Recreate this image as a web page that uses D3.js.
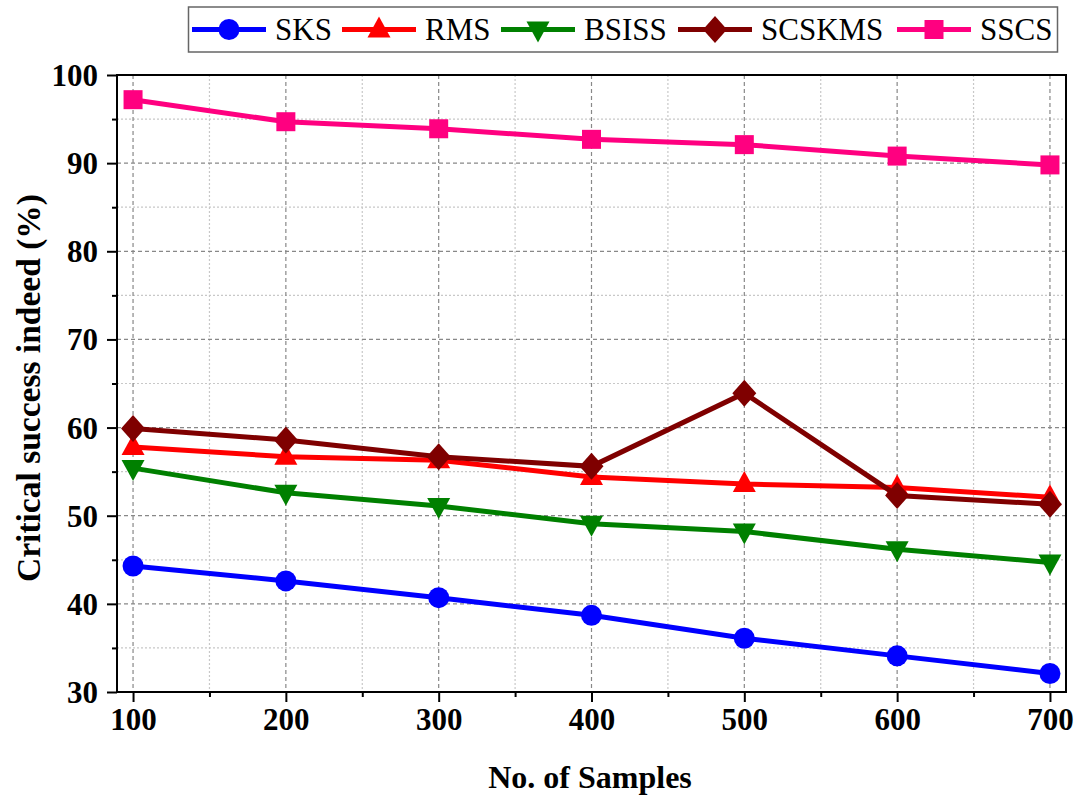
<!DOCTYPE html>
<html>
<head>
<meta charset="utf-8">
<script src="https://cdn.jsdelivr.net/npm/d3@7"></script>
<style>
  body { margin: 0; background: #fff; }
  text { font-family: "Liberation Serif", "Times New Roman", serif; }
</style>
</head>
<body>
<svg width="1080" height="796"></svg>
<script>
// samples on x axis
var samples = [100, 200, 300, 400, 500, 600, 700];

var sks    = [44.3, 42.6, 40.7, 38.7, 36.1, 34.1, 32.1];
var rms    = [57.8, 56.7, 56.3, 54.4, 53.6, 53.2, 52.1];
var bsiss  = [55.4, 52.6, 51.1, 49.1, 48.2, 46.2, 44.7];
var scskms = [59.9, 58.6, 56.7, 55.6, 63.9, 52.3, 51.3];
var sscs   = [97.2, 94.7, 93.9, 92.7, 92.1, 90.8, 89.8];

var seriesNames = ["SKS", "RMS", "BSISS", "SCSKMS", "SSCS"];
var yTicks = [30, 40, 50, 60, 70, 80, 90, 100];

var series = [
  {name: "SKS", values: sks, color: "#0000ff", shape: "circle"},
  {name: "RMS", values: rms, color: "#ff0000", shape: "up"},
  {name: "BSISS", values: bsiss, color: "#008000", shape: "down"},
  {name: "SCSKMS", values: scskms, color: "#7f0000", shape: "diamond"},
  {name: "SSCS", values: sscs, color: "#ff0080", shape: "square"}
];

var svg = d3.select("svg");
var pLeft = 117, pRight = 1066, pTop = 75, pBottom = 692;
var serif = "'Liberation Serif', 'Times New Roman', serif";

var x = d3.scaleLinear().domain([89.5, 710.5]).range([pLeft, pRight]);
var y = d3.scaleLinear().domain([30, 100]).range([pBottom, pTop]);

// grid
var grid = svg.append("g");
grid.selectAll(".gxm").data(d3.range(150, 700, 100)).enter().append("line")
  .attr("x1", d => x(d)).attr("x2", d => x(d)).attr("y1", pTop).attr("y2", pBottom)
  .attr("stroke", "#c8c8c8").attr("stroke-width", 1.2).attr("stroke-dasharray", "2,2");
grid.selectAll(".gym").data(d3.range(35, 100, 10)).enter().append("line")
  .attr("y1", d => y(d)).attr("y2", d => y(d)).attr("x1", pLeft).attr("x2", pRight)
  .attr("stroke", "#c8c8c8").attr("stroke-width", 1.2).attr("stroke-dasharray", "2,2");
grid.selectAll(".gx").data(samples).enter().append("line")
  .attr("x1", d => x(d)).attr("x2", d => x(d)).attr("y1", pTop).attr("y2", pBottom)
  .attr("stroke", "#888").attr("stroke-width", 1.2).attr("stroke-dasharray", "4,3");
grid.selectAll(".gy").data(yTicks.slice(1, -1)).enter().append("line")
  .attr("y1", d => y(d)).attr("y2", d => y(d)).attr("x1", pLeft).attr("x2", pRight)
  .attr("stroke", "#888").attr("stroke-width", 1.2).attr("stroke-dasharray", "4,3");

// axes
var xAxis = d3.axisBottom(x).tickValues(samples).tickSize(10).tickFormat(d3.format("d"));
var xMinor = d3.axisBottom(x).tickValues(d3.range(150, 700, 100)).tickSize(5).tickFormat("");
var yAxis = d3.axisLeft(y).tickValues(yTicks).tickSize(10);
var yMinor = d3.axisLeft(y).tickValues(d3.range(35, 100, 10)).tickSize(5).tickFormat("");

function styleAxis(g) {
  g.select(".domain").remove();
  g.selectAll("line").attr("stroke", "#000").attr("stroke-width", 2);
  g.selectAll("text").attr("font-size", 31).attr("font-weight", "bold")
    .style("font-family", serif).attr("fill", "#000");
}

svg.append("g").attr("transform", "translate(0," + pBottom + ")").call(xAxis).call(styleAxis)
  .selectAll("text").attr("y", 16).attr("dy", "0.71em");
svg.append("g").attr("transform", "translate(0," + pBottom + ")").call(xMinor).call(styleAxis);
svg.append("g").attr("transform", "translate(" + pLeft + ",0)").call(yAxis).call(styleAxis)
  .selectAll("text").attr("x", -19).attr("dy", "0.34em");
svg.append("g").attr("transform", "translate(" + pLeft + ",0)").call(yMinor).call(styleAxis);

// frame
svg.append("rect").attr("x", pLeft).attr("y", pTop).attr("width", pRight - pLeft).attr("height", pBottom - pTop)
  .attr("fill", "none").attr("stroke", "#000").attr("stroke-width", 2);

// lines
var line = d3.line().x((d, i) => x(samples[i])).y(d => y(d));

function marker(sel, shape, color) {
  if (shape == "circle") {
    sel.append("circle").attr("r", 10.5).attr("fill", color);
  } else if (shape == "square") {
    sel.append("rect").attr("x", -9.5).attr("y", -9.5).attr("width", 19).attr("height", 19).attr("fill", color);
  } else if (shape == "up") {
    sel.append("path").attr("d", "M0,-13L11.5,8L-11.5,8Z").attr("fill", color);
  } else if (shape == "down") {
    sel.append("path").attr("d", "M0,13L11.5,-8L-11.5,-8Z").attr("fill", color);
  } else {
    sel.append("path").attr("d", "M0,-13.5L12,0L0,13.5L-12,0Z").attr("fill", color);
  }
}

series.forEach(function(s) {
  svg.append("path").datum(s.values).attr("d", line)
    .attr("fill", "none").attr("stroke", s.color).attr("stroke-width", 5);
  svg.selectAll(null).data(s.values).enter().append("g")
    .attr("transform", (d, i) => "translate(" + x(samples[i]) + "," + y(d) + ")")
    .each(function() { marker(d3.select(this), s.shape, s.color); });
});

// legend
var lg = svg.append("g");
lg.append("rect").attr("x", 188.5).attr("y", 7).attr("width", 869).attr("height", 45)
  .attr("fill", "#fff").attr("stroke", "#666").attr("stroke-width", 1.5);
var legX = [192, 342, 501, 678, 897];
series.forEach(function(s, i) {
  var g = lg.append("g").attr("transform", "translate(" + legX[i] + ",29.5)");
  g.append("line").attr("x1", 0).attr("x2", 74).attr("stroke", s.color).attr("stroke-width", 5);
  var m = g.append("g").attr("transform", "translate(37,0)");
  marker(m, s.shape, s.color);
  g.append("text").attr("x", 83).attr("y", 10.5).attr("font-size", 31)
    .style("font-family", serif).attr("fill", "#000")
    .text(seriesNames[i]);
});

// titles
svg.append("text").attr("x", 590).attr("y", 788).attr("text-anchor", "middle")
  .style("font-family", serif).attr("font-size", 32).attr("font-weight", "bold").text("No. of Samples");
svg.append("text").attr("transform", "translate(40,388) rotate(-90)").attr("text-anchor", "middle")
  .style("font-family", serif).attr("font-size", 33.5).attr("font-weight", "bold").text("Critical success indeed (%)");
</script>
</body>
</html>
